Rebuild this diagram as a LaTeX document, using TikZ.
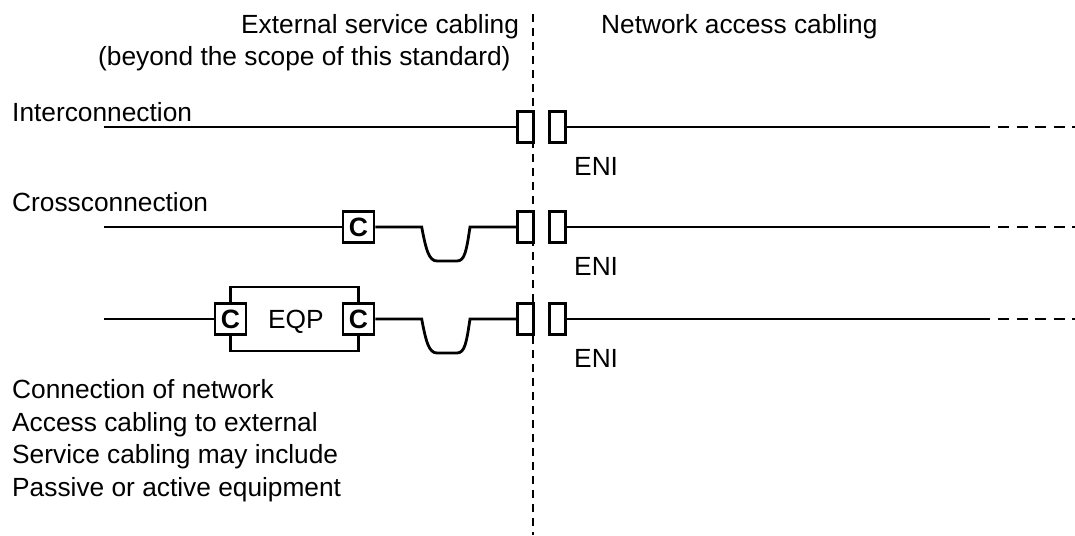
\documentclass[tikz,border=0pt]{standalone}
\usepackage{fontspec}
\setmainfont{Liberation Sans}
\tikzset{
  x=1pt,y=-1pt,
  wire/.style={line width=2.8pt,black},
  sbox/.style={draw,line width=2.8pt,inner sep=0pt,minimum height=30.5pt},
  cbox/.style={draw,line width=2.8pt,fill=white,inner sep=0pt,minimum width=31pt,minimum height=30.5pt,font=\fontsize{26.5}{26.5}\selectfont\bfseries},
  txt/.style={inner sep=0pt,anchor=base west,font=\fontsize{26.3}{30}\selectfont},
  vdash/.style={line width=2.4pt,dash pattern=on 8pt off 6pt},
  hdash/.style={line width=2.8pt,dash pattern=on 11pt off 7.5pt}
}
\begin{document}
\begin{tikzpicture}
\useasboundingbox (0,0) rectangle (1075,535);
% row 1
\coordinate (a1) at (104,127);
\node[sbox,minimum width=15.5pt] (l1) at (525.5,127) {};
\node[sbox,minimum width=16pt] (r1) at (557.5,127) {};
\coordinate (e1) at (990,127);
\coordinate (f1) at (998,127);
\coordinate (g1) at (1075,127);
\draw[wire] (a1) -- (l1.west);
\draw[wire] (r1.east) -- (e1);
\draw[hdash] (f1) -- (g1);
% row 2
\coordinate (a2) at (104,227);
\node[cbox] (c2) at (358.5,227) {C};
\node[sbox,minimum width=15.5pt] (l2) at (525.5,227) {};
\node[sbox,minimum width=16pt] (r2) at (557.5,227) {};
\coordinate (e2) at (990,227);
\coordinate (f2) at (998,227);
\coordinate (g2) at (1075,227);
\draw[wire] (a2) -- (c2.west);
\draw[wire] (c2.east) -- (421.7,227) .. controls (426,250) and (429,261) .. (437,261) -- (457,261) .. controls (465,261) and (466.5,250) .. (470,227) -- (l2.west);
\draw[wire] (r2.east) -- (e2);
\draw[hdash] (f2) -- (g2);
% row 3
\coordinate (a3) at (104,319);
\node[sbox,minimum width=15.5pt] (l3) at (525.5,319) {};
\node[sbox,minimum width=16pt] (r3) at (557.5,319) {};
\coordinate (tl) at (230.5,287);
\coordinate (tr) at (358.5,287);
\coordinate (bl) at (230.5,351);
\coordinate (br) at (358.5,351);
\draw[wire] (tl) -- (tr) -- (br) -- (bl) -- cycle;
\node[cbox] (c3a) at (230.5,319) {C};
\node[cbox] (c3b) at (358.5,319) {C};
\node[txt] (eqp) at (268,328) {EQP};
\coordinate (e3) at (990,319);
\coordinate (f3) at (998,319);
\coordinate (g3) at (1075,319);
\draw[wire] (a3) -- (c3a.west);
\draw[wire] (c3b.east) -- (421.7,319) .. controls (426,342) and (429,353) .. (437,353) -- (457,353) .. controls (465,353) and (466.5,342) .. (470,319) -- (l3.west);
\draw[wire] (r3.east) -- (e3);
\draw[hdash] (f3) -- (g3);
% divider
\coordinate (v0) at (533,14);
\coordinate (v1) at (533,535);
\draw[vdash] (v0) -- (v1);
% texts
\node[txt] (t1) at (241,33.5) {External service cabling};
\node[txt] (t2) at (98,65.5) {(beyond the scope of this standard)};
\node[txt] (t3) at (601,33.5) {Network access cabling};
\node[txt] (t4) at (12,121) {Interconnection};
\node[txt] (t5) at (12,211) {Crossconnection};
\node[txt] (n1) at (574,175) {ENI};
\node[txt] (n2) at (574,275) {ENI};
\node[txt] (n3) at (574,367.5) {ENI};
\node[txt] (p1) at (12,398) {Connection of network};
\node[txt] (p2) at (12,431) {Access cabling to external};
\node[txt] (p3) at (12,463) {Service cabling may include};
\node[txt] (p4) at (12,496) {Passive or active equipment};
\end{tikzpicture}
\end{document}
